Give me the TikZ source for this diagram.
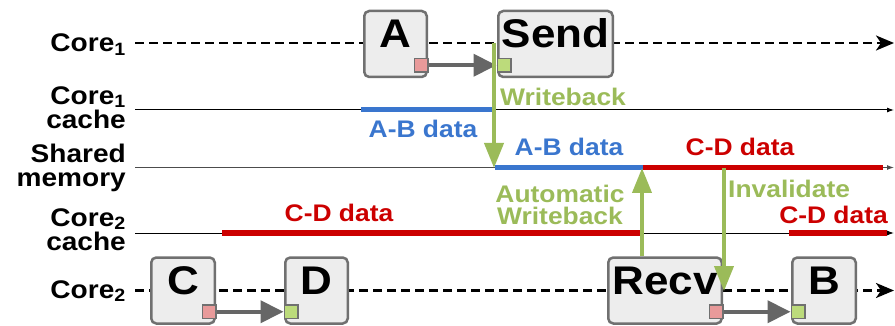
\documentclass[tikz,border=0pt]{standalone}
\usepackage{fontspec}
\setmainfont{Liberation Sans}[FakeStretch=1.1]
\usetikzlibrary{arrows.meta,positioning,calc}
\definecolor{ink}{HTML}{000000}
\definecolor{boxfill}{HTML}{EDEDED}
\definecolor{boxline}{HTML}{707070}
\definecolor{flowgray}{HTML}{666666}
\definecolor{abblue}{HTML}{3A76CE}
\definecolor{cdred}{HTML}{CC0000}
\definecolor{wbgreen}{HTML}{9BBB59}
\definecolor{portred}{HTML}{E89A9A}
\definecolor{portgreen}{HTML}{BCDB7B}

\tikzset{
  proc/.style={draw=boxline,fill=boxfill,line width=2.5pt,rounded corners=5pt,
    minimum height=66pt,inner sep=0pt,text height=28pt,text depth=20pt,
    font=\fontsize{40}{40}\selectfont\bfseries},
  outport/.style={draw=boxline,fill=portred,line width=1.5pt,minimum size=13.5pt,
    inner sep=0pt,anchor=south east},
  inport/.style={draw=boxline,fill=portgreen,line width=1.5pt,minimum size=13.5pt,
    inner sep=0pt,anchor=south west},
  lanelbl/.style={inner sep=0pt,align=right,text=ink,
    font=\fontsize{25.5}{24}\selectfont\bfseries},
  datalbl/.style={inner sep=0pt,font=\fontsize{24}{22}\selectfont\bfseries},
  corelane/.style={line width=2.5pt,dash pattern=on 9pt off 5pt,
    -{Stealth[length=18pt,width=15pt,inset=5pt]}},
  memlane/.style={line width=1pt,-{Latex[length=7pt,width=5pt]}},
  segment/.style={line width=5pt},
  flow/.style={draw=flowgray,line width=4pt,-{Triangle[length=23pt,width=22pt]}},
  coherence/.style={draw=wbgreen,line width=4pt,-{Triangle[length=25pt,width=19pt]}}
}

\begin{document}
\begin{tikzpicture}[x=1pt,y=-1pt]
  \useasboundingbox (0,0) rectangle (895,326);
  \def\laneleft{135}
  \def\laneright{894}

  % lane labels
  \node[lanelbl,anchor=base east] (core1lbl) at (126,52) {Core\textsubscript{1}};
  \node[lanelbl,anchor=north east] (cache1lbl) at (126,86) {Core\textsubscript{1}\\cache};
  \node[lanelbl,anchor=north east] (memlbl) at (126,143.5) {Shared\\memory};
  \node[lanelbl,anchor=north east] (cache2lbl) at (126,208) {Core\textsubscript{2}\\cache};
  \node[lanelbl,anchor=base east] (core2lbl) at (126,298) {Core\textsubscript{2}};

  % time lines
  \draw[corelane] (\laneleft,43) -- (\laneright,43);
  \draw[memlane] (\laneleft,110) -- (\laneright,110);
  \draw[memlane,draw=black!70] (\laneleft,167.5) -- (\laneright,167.5);
  \draw[memlane] (\laneleft,233) -- (\laneright,233);
  \draw[corelane] (\laneleft,290.5) -- (\laneright,290.5);

  % cache and memory contents
  \draw[segment,abblue] (361,110) -- (492,110);
  \draw[segment,abblue] (495,167.5) -- (643,167.5);
  \draw[segment,cdred] (643,167.5) -- (883,167.5);
  \draw[segment,cdred] (222,233) -- (641,233);
  \draw[segment,cdred] (789,233) -- (887,233);

  % tasks
  \node[proc,minimum width=62.5pt] (A) at (395.5,44) {A};
  \node[proc,minimum width=114.5pt] (Send) at (555.5,44) {Send};
  \node[proc,minimum width=63.5pt] (C) at (183,290.5) {C};
  \node[proc,minimum width=62.5pt] (D) at (316.5,290.5) {D};
  \node[proc,minimum width=113.5pt] (Recv) at (665,290.5) {Recv};
  \node[proc,minimum width=63.5pt] (B) at (824,290.5) {B};

  \node[outport] (Aout) at ([xshift=0.5pt,yshift=5.5pt]A.south east) {};
  \node[inport] (Sendin) at ([xshift=-0.5pt,yshift=5.5pt]Send.south west) {};
  \node[outport] (Cout) at ([xshift=0.5pt,yshift=5.5pt]C.south east) {};
  \node[inport] (Din) at ([xshift=-0.5pt,yshift=5.5pt]D.south west) {};
  \node[outport] (Recvout) at ([xshift=0.5pt,yshift=5.5pt]Recv.south east) {};
  \node[inport] (Bin) at ([xshift=-0.5pt,yshift=5.5pt]B.south west) {};

  \draw[flow] (Aout.east) -- (Sendin.west);
  \draw[flow] (Cout.east) -- (Din.west);
  \draw[flow] (Recvout.east) -- (Bin.west);

  % coherence actions
  \coordinate (wbtop) at (494,43);
  \coordinate (wbend) at (494,168);
  \coordinate (awbend) at (642,168);
  \coordinate (invtop) at (724,168);
  \coordinate (invend) at (724,291);
  \draw[coherence] (wbtop) -- (wbend);
  \draw[coherence] (awbend |- Recv.north) -- (awbend);
  \draw[coherence] (invtop) -- (invend);

  \node[datalbl,text=wbgreen,anchor=base west] (wblbl) at (500,106) {Writeback};
  \node[datalbl,text=wbgreen,align=center,anchor=base] (awblbl) at (560,225)
    {Automatic\\Writeback};
  \node[datalbl,text=wbgreen,anchor=base west] (invlbl) at (728,197) {Invalidate};

  \node[datalbl,text=abblue,anchor=base] (ab1lbl) at (423,138) {A-B data};
  \node[datalbl,text=abblue,anchor=base] (ab2lbl) at (569,156) {A-B data};
  \node[datalbl,text=cdred,anchor=base] (cd1lbl) at (740,156) {C-D data};
  \node[datalbl,text=cdred,anchor=base] (cd2lbl) at (339,222) {C-D data};
  \node[datalbl,text=cdred,anchor=base east] (cd3lbl) at (888,223) {C-D data};
\end{tikzpicture}
\end{document}
